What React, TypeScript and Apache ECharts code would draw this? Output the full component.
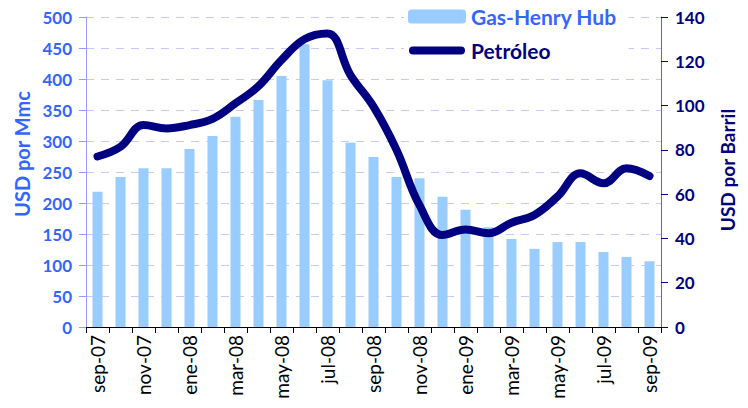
import React, { useEffect, useRef } from "react";
import * as echarts from "echarts";

const categories = [
  "sep-07", "oct-07", "nov-07", "dic-07", "ene-08", "feb-08", "mar-08", "abr-08", "may-08",
  "jun-08", "jul-08", "ago-08", "sep-08", "oct-08", "nov-08", "dic-08", "ene-09", "feb-09",
  "mar-09", "abr-09", "may-09", "jun-09", "jul-09", "ago-09", "sep-09",
];
const gasValues = [
  218, 242, 256, 256, 287, 308, 339, 366, 405, 456, 398, 297, 274, 242, 240, 210, 189, 161,
  142, 126, 137, 137, 121, 113, 106,
];
const oilValues = [
  77, 81.4, 91.2, 89.7, 91.2, 94, 101, 108.8, 120.6, 130, 132.6, 113.8, 99.5, 80, 55, 41.5,
  44, 42.3, 47.1, 50.6, 58.9, 69.4, 64.9, 71.7, 68.2,
];
const leftTicks = { min: 0, max: 500, interval: 50 };
const rightTicks = { min: 0, max: 140, interval: 20 };
const leftAxisName = "USD por Mmc";
const rightAxisName = "USD por Barril";

const FONT = "Lato, 'Open Sans', sans-serif";
const BLUE = "#3366ff";
const NAVY = "#000080";

const LINE_ICON =
  "path://M0 0M56 14M4 3L52 3A4 4 0 0 1 52 11L4 11A4 4 0 0 1 4 3Z";

export default function App() {
  const ref = useRef<HTMLDivElement>(null);
  useEffect(() => {
    if (!ref.current) return;
    const chart = echarts.init(ref.current, undefined, { renderer: "svg" });
    chart.setOption({
      animation: false,
      backgroundColor: "#ffffff",
      grid: { left: 86, right: 87, top: 17, bottom: 81 },
      legend: {
        orient: "vertical",
        left: 404,
        top: 4,
        itemWidth: 58,
        itemHeight: 14,
        itemGap: 13,
        padding: [2, 12, 2, 4],
        backgroundColor: "#ffffff",
        textStyle: { fontFamily: FONT, fontWeight: "bold", fontSize: 21 },
        data: [
          { name: "Gas-Henry Hub", textStyle: { color: BLUE } },
          { name: "Petróleo", icon: LINE_ICON, itemStyle: { color: NAVY }, textStyle: { color: NAVY } },
        ],
      },
      graphic: [
        {
          type: "text",
          x: 22,
          y: 154,
          rotation: Math.PI / 2,
          style: {
            text: leftAxisName,
            fill: BLUE,
            font: `bold 20px ${FONT}`,
            align: "center",
            verticalAlign: "middle",
          },
        },
        {
          type: "text",
          x: 727,
          y: 170,
          rotation: Math.PI / 2,
          style: {
            text: rightAxisName,
            fill: NAVY,
            font: `bold 19px ${FONT}`,
            align: "center",
            verticalAlign: "middle",
          },
        },
      ],
      xAxis: {
        type: "category",
        data: categories,
        boundaryGap: true,
        axisLine: { lineStyle: { color: "#000000", width: 1 } },
        axisTick: { show: true, interval: 0, length: 6, lineStyle: { color: "#000000" } },
        axisLabel: {
          interval: 1,
          rotate: 90,
          margin: 8,
          fontFamily: FONT,
          fontSize: 19,
          color: "#000000",
        },
      },
      yAxis: [
        {
          type: "value",
          ...leftTicks,
          axisLine: { show: true, lineStyle: { color: "#9999ff" } },
          axisTick: { show: true, length: 7, lineStyle: { color: "#9999ff" } },
          axisLabel: { color: BLUE, fontFamily: FONT, fontWeight: "bold", fontSize: 17, margin: 14 },
          splitLine: { lineStyle: { color: "#c8c8f8", type: [8, 7], width: 1 } },
        },
        {
          type: "value",
          ...rightTicks,
          axisLine: { show: true, lineStyle: { color: "#6666aa" } },
          axisTick: { show: true, length: 7, inside: false, lineStyle: { color: NAVY } },
          axisLabel: { color: NAVY, fontFamily: FONT, fontWeight: "bold", fontSize: 17, margin: 14 },
          splitLine: { show: false },
        },
      ],
      series: [
        {
          name: "Gas-Henry Hub",
          type: "bar",
          data: gasValues,
          yAxisIndex: 0,
          barWidth: 10,
          itemStyle: { color: "#99ccff" },
        },
        {
          name: "Petróleo",
          type: "line",
          data: oilValues,
          yAxisIndex: 1,
          smooth: 0.4,
          symbol: "none",
          lineStyle: { color: NAVY, width: 8, cap: "round", join: "round" },
          itemStyle: { color: NAVY },
        },
      ],
    });
    return () => chart.dispose();
  }, []);
  return <div ref={ref} style={{ width: 748, height: 408, margin: -8 }} />;
}
